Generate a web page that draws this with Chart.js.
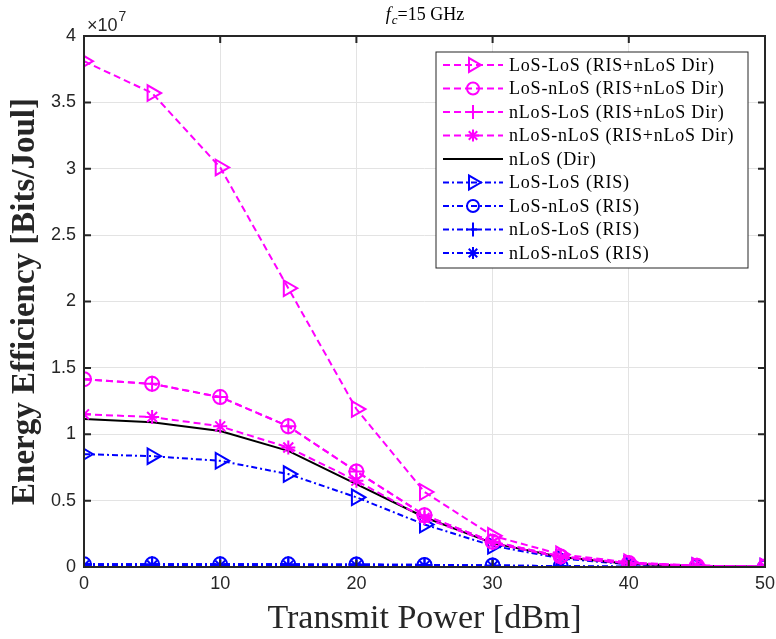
<html>
<head>
  <title>Energy Efficiency vs Transmit Power</title>
  <style>
    body { margin: 0; background: #fff; }
    #wrap { width: 776px; height: 639px; position: relative; }
  </style>
</head>
<body>
<div id="wrap">
  <canvas id="eeChart" width="776" height="639"></canvas>
</div>
<script src="https://cdn.jsdelivr.net/npm/chart.js"></script>
<script>
  // 橫軸：發射功率 (dBm)
  const powerDbm = [0, 5, 10, 15, 20, 25, 30, 35, 40, 45, 50];
  // 各序列 (單位 ×10^7 Bits/Joul)
  const losLosRisDir   = [3.81, 3.57, 3.01, 2.10, 1.19, 0.565, 0.235, 0.095, 0.035, 0.010, 0.003];
  const losNlosRisDir  = [1.415, 1.38, 1.28, 1.06, 0.72, 0.39, 0.19, 0.08, 0.03, 0.010, 0.003];
  const nlosLosRisDir  = [1.415, 1.38, 1.28, 1.06, 0.72, 0.39, 0.19, 0.08, 0.03, 0.010, 0.003];
  const nlosNlosRisDir = [1.15, 1.13, 1.06, 0.90, 0.65, 0.37, 0.18, 0.072, 0.026, 0.008, 0.002];
  const nlosDir        = [1.115, 1.09, 1.025, 0.875, 0.625, 0.375, 0.18, 0.075, 0.025, 0.008, 0.002];
  const losLosRis      = [0.85, 0.835, 0.80, 0.70, 0.525, 0.32, 0.16, 0.065, 0.02, 0.005, 0.001];
  const losNlosRis     = [0.02, 0.02, 0.02, 0.02, 0.019, 0.016, 0.012, 0.006, 0.002, 0.001, 0.0003];
  const nlosLosRis     = [0.02, 0.02, 0.02, 0.02, 0.019, 0.016, 0.012, 0.006, 0.002, 0.001, 0.0003];
  const nlosNlosRis    = [0.012, 0.012, 0.012, 0.011, 0.011, 0.009, 0.007, 0.004, 0.001, 0.0005, 0.0002];
  const xTicks = [0, 10, 20, 30, 40, 50];
  const yTicks = [0, 0.5, 1, 1.5, 2, 2.5, 3, 3.5, 4];

  const MAG = '#ff00ff', BLUE = '#0000ff';
  const dashMag = [7, 4];
  const dashBlue = [6, 3, 2, 3];

  function mk(label, vals, color, dash, style, rot, r) {
    return {
      label: label,
      data: powerDbm.map((x, i) => ({ x: x, y: vals[i] * 1e7 })),
      borderColor: color,
      backgroundColor: 'transparent',
      pointBackgroundColor: 'transparent',
      pointBorderColor: color,
      borderWidth: 2,
      pointBorderWidth: 2,
      borderDash: dash,
      pointStyle: style,
      pointRotation: rot || 0,
      pointRadius: r,
      tension: 0
    };
  }

  const datasets = [
    mk('LoS-LoS (RIS+nLoS Dir)', losLosRisDir, MAG, dashMag, 'triangle', 90, 9),
    mk('LoS-nLoS (RIS+nLoS Dir)', losNlosRisDir, MAG, dashMag, 'circle', 0, 7),
    mk('nLoS-LoS (RIS+nLoS Dir)', nlosLosRisDir, MAG, dashMag, 'cross', 0, 8),
    mk('nLoS-nLoS (RIS+nLoS Dir)', nlosNlosRisDir, MAG, dashMag, 'star', 0, 7),
    mk('nLoS (Dir)', nlosDir, '#000000', [], false, 0, 0),
    mk('LoS-LoS (RIS)', losLosRis, BLUE, dashBlue, 'triangle', 90, 9),
    mk('LoS-nLoS (RIS)', losNlosRis, BLUE, dashBlue, 'circle', 0, 7),
    mk('nLoS-LoS (RIS)', nlosLosRis, BLUE, dashBlue, 'cross', 0, 8),
    mk('nLoS-nLoS (RIS)', nlosNlosRis, BLUE, dashBlue, 'star', 0, 7)
  ];

  // 外框、內向刻度、標題、×10^7 與圖例
  const decorPlugin = {
    id: 'decor',
    afterDraw(chart) {
      const ctx = chart.ctx;
      const a = chart.chartArea;
      const xs = chart.scales.x, ys = chart.scales.y;
      ctx.save();
      ctx.strokeStyle = '#262626';
      ctx.lineWidth = 2;
      ctx.setLineDash([]);
      ctx.strokeRect(a.left, a.top, a.right - a.left, a.bottom - a.top);
      ctx.beginPath();
      xTicks.forEach(v => {
        const px = xs.getPixelForValue(v);
        ctx.moveTo(px, a.bottom); ctx.lineTo(px, a.bottom - 7);
        ctx.moveTo(px, a.top); ctx.lineTo(px, a.top + 7);
      });
      yTicks.forEach(v => {
        const py = ys.getPixelForValue(v * 1e7);
        ctx.moveTo(a.left, py); ctx.lineTo(a.left + 7, py);
        ctx.moveTo(a.right, py); ctx.lineTo(a.right - 7, py);
      });
      ctx.stroke();

      // ×10^7
      ctx.fillStyle = '#262626';
      ctx.textBaseline = 'alphabetic';
      ctx.textAlign = 'left';
      ctx.font = '18px "Liberation Sans"';
      ctx.fillText('\u00d710', 87, 31);
      const w10 = ctx.measureText('\u00d710').width;
      ctx.font = '14px "Liberation Sans"';
      ctx.fillText('7', 87 + w10 + 1, 21);

      // 標題 f_c=15 GHz
      ctx.fillStyle = '#000';
      const cx = (a.left + a.right) / 2;
      ctx.font = 'italic 18px "Liberation Serif"';
      const fW = ctx.measureText('f').width;
      ctx.font = 'italic 13px "Liberation Serif"';
      const cW = ctx.measureText('c').width;
      ctx.font = '18px "Liberation Serif"';
      const rest = '=15 GHz';
      const rW = ctx.measureText(rest).width;
      let tx = cx - (fW + cW + rW) / 2;
      ctx.font = 'italic 18px "Liberation Serif"';
      ctx.fillText('f', tx, 20);
      ctx.font = 'italic 13px "Liberation Serif"';
      ctx.fillText('c', tx + fW + 1, 24);
      ctx.font = '18px "Liberation Serif"';
      ctx.fillText(rest, tx + fW + cW + 1, 20);

      // 圖例
      const lx = 436, ly = 52, lw = 312, lh = 216;
      ctx.fillStyle = '#fff';
      ctx.fillRect(lx, ly, lw, lh);
      ctx.strokeStyle = '#262626';
      ctx.lineWidth = 1;
      ctx.strokeRect(lx, ly, lw, lh);
      ctx.font = '18px "Liberation Serif"';
      ctx.letterSpacing = '0.8px';
      ctx.textBaseline = 'middle';
      datasets.forEach((d, i) => {
        const y = ly + 13 + i * 23.5;
        ctx.strokeStyle = d.borderColor;
        ctx.lineWidth = 2;
        ctx.setLineDash(d.borderDash);
        ctx.beginPath();
        ctx.moveTo(lx + 7, y); ctx.lineTo(lx + 67, y);
        ctx.stroke();
        ctx.setLineDash([]);
        if (d.pointStyle) {
          ctx.strokeStyle = d.borderColor;
          ctx.fillStyle = 'transparent';
          ctx.lineWidth = 2;
          Chart.helpers.drawPoint(ctx, {
            pointStyle: d.pointStyle,
            radius: d.pointRadius - 1,
            rotation: d.pointRotation,
            borderWidth: 2
          }, lx + 37, y);
        }
        ctx.fillStyle = '#000';
        ctx.fillText(d.label, lx + 73, y + 1);
      });
      ctx.restore();
    }
  };

  new Chart(document.getElementById('eeChart'), {
    type: 'line',
    data: { datasets: datasets },
    options: {
      responsive: false,
      animation: false,
      layout: { padding: { top: 36, right: 11, left: 6, bottom: 0 } },
      plugins: {
        legend: { display: false },
        tooltip: { enabled: false }
      },
      scales: {
        x: {
          type: 'linear',
          min: 0, max: 50,
          afterBuildTicks: s => { s.ticks = xTicks.map(v => ({ value: v })); },
          afterFit: s => { s.height = 72; s.paddingLeft = 0; s.paddingRight = 0; },
          grid: { color: '#e3e3e3', drawTicks: false },
          border: { display: false },
          ticks: {
            color: '#262626',
            font: { family: 'Liberation Sans', size: 18 },
            padding: 6,
            maxRotation: 0
          },
          title: {
            display: true,
            text: 'Transmit Power [dBm]',
            color: '#262626',
            font: { family: 'Liberation Serif', size: 34 },
            padding: { top: -4, bottom: 0 }
          }
        },
        y: {
          min: 0, max: 4e7,
          afterBuildTicks: s => { s.ticks = yTicks.map(v => ({ value: v * 1e7 })); },
          afterFit: s => { s.width = 78; s.paddingTop = 0; s.paddingBottom = 0; },
          grid: { color: '#e3e3e3', drawTicks: false },
          border: { display: false },
          ticks: {
            color: '#262626',
            font: { family: 'Liberation Sans', size: 18 },
            padding: 8,
            callback: v => String(v / 1e7)
          },
          title: {
            display: true,
            text: 'Energy Efficiency [Bits/Joul]',
            color: '#262626',
            font: { family: 'Liberation Serif', size: 33, weight: 'bold' },
            padding: { top: 0, bottom: 0 }
          }
        }
      }
    },
    plugins: [decorPlugin]
  });
</script>
</body>
</html>
